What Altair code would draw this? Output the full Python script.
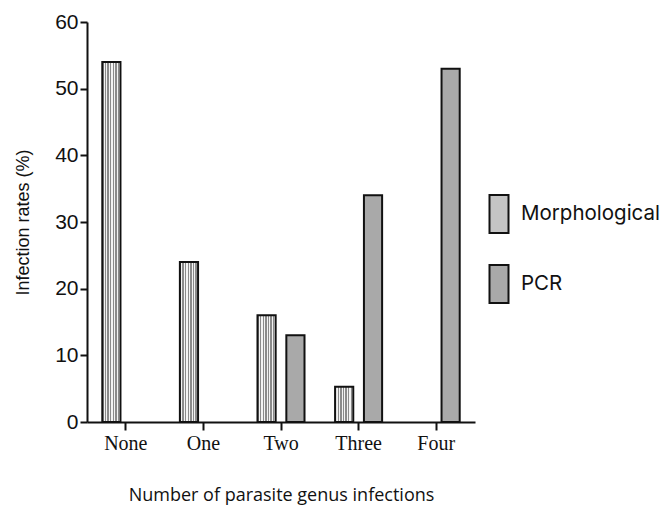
import altair as alt
import pandas as pd

categories = ["None", "One", "Two", "Three", "Four"]
series = ["Morphological", "PCR"]
morph_values = [54, 24, 16, 5.3, None]
pcr_values = [None, None, 13, 34, 53]

rows = []
for c, m, p in zip(categories, morph_values, pcr_values):
    if m is not None:
        rows.append({"cat": c, "method": "Morphological", "rate": m})
    if p is not None:
        rows.append({"cat": c, "method": "PCR", "rate": p})
df = pd.DataFrame(rows)

# stripe texture for the morphological bars
stops = []
n = 7
for i in range(n):
    a = i / n
    b = (i + 0.5) / n
    c_ = (i + 1) / n
    stops += [
        {"offset": a, "color": "#8a8a8a"},
        {"offset": b, "color": "#8a8a8a"},
        {"offset": b, "color": "#f2f2f2"},
        {"offset": c_, "color": "#f2f2f2"},
    ]
stripe = {"gradient": "linear", "x1": 0, "x2": 1, "y1": 0, "y2": 0, "stops": stops}

x_enc = alt.X(
    "cat:N",
    sort=categories,
    scale=alt.Scale(domain=categories, paddingInner=0, paddingOuter=0),
    axis=alt.Axis(
        title="Number of parasite genus infections",
        labelAngle=0,
        labelFont="Liberation Serif",
        labelFontSize=20,
        labelColor="#111",
        labelPadding=3,
        tickSize=8,
        tickWidth=2,
        tickColor="#111",
        domainWidth=2,
        domainColor="#111",
        grid=False,
        titleFont="Open Sans",
        titleFontSize=18,
        titleFontWeight="normal",
        titleColor="#111",
        titlePadding=33,
    ),
)
xo_enc = alt.XOffset(
    "method:N",
    scale=alt.Scale(domain=series, paddingInner=0.37, paddingOuter=0.53),
)
y_enc = alt.Y(
    "rate:Q",
    scale=alt.Scale(domain=[0, 60], nice=False),
    axis=alt.Axis(
        title="Infection rates (%)",
        values=[0, 10, 20, 30, 40, 50, 60],
        grid=False,
        labelFont="Liberation Sans",
        labelFontSize=21,
        labelColor="#111",
        labelPadding=2,
        tickSize=7,
        tickWidth=2,
        tickColor="#111",
        domainWidth=2,
        domainColor="#111",
        titleFont="Liberation Sans",
        titleFontSize=18,
        titleFontWeight="normal",
        titleColor="#111",
        titlePadding=22,
    ),
)

fill_enc = alt.Fill(
    "method:N",
    scale=alt.Scale(domain=series, range=["#c4c4c4", "#a9a9a9"]),
    condition={"test": "datum.method === 'Morphological'", "value": stripe},
    legend=alt.Legend(
        title=None,
        orient="none",
        legendX=392,
        legendY=172,
        symbolType="M-0.5,-1H0.5V1H-0.5Z",
        symbolSize=1444,
        symbolStrokeColor="#111",
        symbolStrokeWidth=2,
        symbolOpacity=1,
        labelFont="Inter",
        labelFontSize=20.5,
        labelColor="#111",
        labelOffset=2,
        labelLimit=300,
        rowPadding=24,
        padding=0,
    ),
)

chart = (
    alt.Chart(df)
    .mark_bar(stroke="#111", strokeWidth=2)
    .encode(x=x_enc, xOffset=xo_enc, y=y_enc, fill=fill_enc)
    .properties(
        width=388,
        height=400,
        background="white",
        autosize=alt.AutoSizeParams(type="none"),
        padding={"left": 79, "top": 14, "right": 188, "bottom": 87},
    )
    .configure_view(stroke=None, strokeWidth=0)
    .configure_axis(grid=False)
)
chart.save("out.html", embed_options={"renderer": "svg", "actions": False})
